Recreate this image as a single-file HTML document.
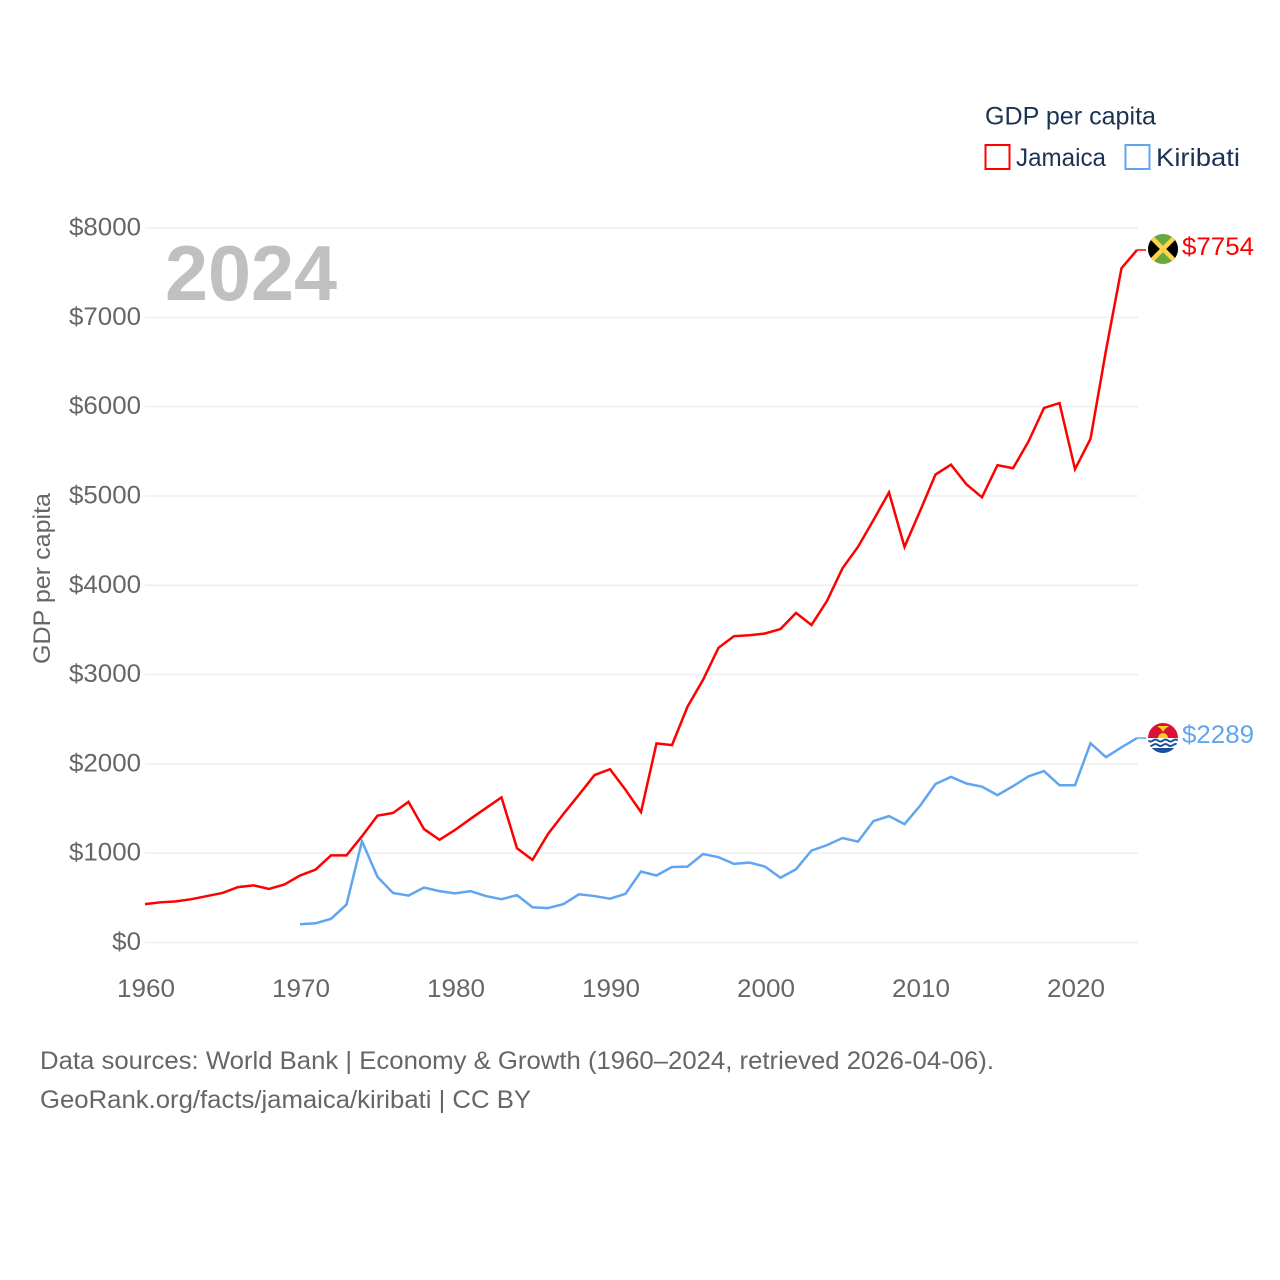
<!DOCTYPE html>
<html lang="en">
<head>
<meta charset="utf-8">
<title>GDP per capita: Jamaica and Kiribati</title>
<style>
html,body{margin:0;padding:0;background:#fff}
svg{display:block}
text{font-family:"Liberation Sans",sans-serif}
</style>
</head>
<body>
<svg id="chart" xmlns="http://www.w3.org/2000/svg" width="1280" height="1280" viewBox="0 0 1280 1280">
  <defs>
    <clipPath id="flag-clip-j"><circle cx="1163" cy="249" r="15"/></clipPath>
    <clipPath id="flag-clip-k"><circle cx="1163" cy="738" r="15"/></clipPath>
  </defs>
  <rect width="1280" height="1280" fill="#fff"/>
  <g id="grid"></g>
  <g id="yticks"></g>
  <g id="xticks"></g>
  <text x="165" y="300" font-size="78" font-weight="700" fill="#c0c0c0" textLength="172" lengthAdjust="spacingAndGlyphs">2024</text>
  <text transform="translate(50,664) rotate(-90)" font-size="24" fill="#666" textLength="171" lengthAdjust="spacingAndGlyphs">GDP per capita</text>
  <g id="series"></g>

  <g clip-path="url(#flag-clip-j)">
    <rect x="1148" y="234" width="30" height="30" fill="#6aa842"/>
    <polygon points="1148,234 1163,249 1148,264" fill="#000"/>
    <polygon points="1178,234 1163,249 1178,264" fill="#000"/>
    <path d="M1148 234L1178 264M1178 234L1148 264" stroke="#fed54a" stroke-width="4.5"/>
  </g>
  <g clip-path="url(#flag-clip-k)">
    <rect x="1148" y="723" width="30" height="16" fill="#dc0f37"/>
    <circle cx="1163" cy="738" r="5" fill="#fcd116"/>
    <polygon points="1157,726 1169,726 1165,729 1163,732 1161,729" fill="#fcd116"/>
    <rect x="1148" y="738" width="30" height="15" fill="#fff"/>
    <path d="M1148 740.5q2.5 2 5 0t5 0t5 0t5 0t5 0t5 0M1148 745q2.5 2 5 0t5 0t5 0t5 0t5 0t5 0" fill="none" stroke="#1a4fa0" stroke-width="2"/>
    <rect x="1148" y="748" width="30" height="5" fill="#1a4fa0"/>
  </g>

  <text id="label-j" x="1182" y="255" font-size="25" fill="#ff0000" textLength="72" lengthAdjust="spacingAndGlyphs"></text>
  <text id="label-k" x="1182" y="743" font-size="25" fill="#60a5f0" textLength="72" lengthAdjust="spacingAndGlyphs"></text>

  <g>
    <text x="985" y="124.5" font-size="25" fill="#1b3353" textLength="171" lengthAdjust="spacingAndGlyphs">GDP per capita</text>
    <g>
      <rect x="985.5" y="145" width="24" height="24" fill="none" stroke="#ff0000" stroke-width="2"/>
      <text x="1016" y="166" font-size="25" fill="#1b3353" textLength="90" lengthAdjust="spacingAndGlyphs">Jamaica</text>
    </g>
    <g>
      <rect x="1125.5" y="145" width="24" height="24" fill="none" stroke="#60a5f0" stroke-width="2"/>
      <text x="1156" y="166" font-size="25" fill="#1b3353" textLength="84" lengthAdjust="spacingAndGlyphs">Kiribati</text>
    </g>
  </g>

  <text x="40" y="1069" font-size="25" fill="#666" textLength="954" lengthAdjust="spacingAndGlyphs">Data sources: World Bank | Economy &amp; Growth (1960–2024, retrieved 2026-04-06).</text>
  <text x="40" y="1108" font-size="25" fill="#666" textLength="491" lengthAdjust="spacingAndGlyphs">GeoRank.org/facts/jamaica/kiribati | CC BY</text>
</svg>
<script>
const yTickValues = [0, 1000, 2000, 3000, 4000, 5000, 6000, 7000, 8000];
const xTickValues = [1960, 1970, 1980, 1990, 2000, 2010, 2020];
const jamaicaStartYear = 1960;
const jamaicaValues = [430, 450, 460, 485, 520, 555, 620, 640, 600, 650, 750, 815, 975, 975, 1190, 1420, 1450, 1575, 1270, 1150, 1260, 1385, 1505, 1625, 1055, 925, 1215, 1440, 1655, 1875, 1940, 1710, 1460, 2230, 2210, 2640, 2940, 3300, 3430, 3440, 3460, 3510, 3690, 3555, 3825, 4190, 4430, 4730, 5040, 4430, 4830, 5240, 5350, 5130, 4985, 5345, 5310, 5610, 5985, 6040, 5300, 5640, 6630, 7550, 7754];
const kiribatiStartYear = 1970;
const kiribatiValues = [205, 215, 265, 425, 1135, 735, 555, 525, 615, 575, 550, 575, 520, 485, 530, 395, 385, 430, 540, 520, 490, 545, 795, 750, 845, 850, 990, 955, 880, 895, 850, 725, 820, 1030, 1090, 1170, 1130, 1360, 1415, 1325, 1530, 1775, 1855, 1780, 1745, 1650, 1750, 1860, 1920, 1760, 1760, 2230, 2075, 2185, 2289];

const NS = 'http://www.w3.org/2000/svg';
function xScale(year) { return 145 + (year - 1960) * 15.5; }
function xLabelScale(year) { return 146 + (year - 1960) * 15.5; }
function yScale(value) { return 942.5 - value * 0.08931; }
function make(tag, attrs, parent) {
  const el = document.createElementNS(NS, tag);
  for (const k in attrs) el.setAttribute(k, attrs[k]);
  parent.appendChild(el);
  return el;
}

const grid = document.getElementById('grid');
const yticks = document.getElementById('yticks');
yTickValues.forEach(function (v) {
  const y = yScale(v);
  const line = make('line', { x1: 145, x2: 1138, y1: y, y2: y, stroke: '#eeeeee', 'stroke-width': 1.5 }, grid);
  
  
  const s = '$' + v;
  const t = make('text', { x: 141, y: y + 7.5, 'text-anchor': 'end', 'font-size': 25, fill: '#666', textLength: s.length * 14.4, lengthAdjust: 'spacingAndGlyphs' }, yticks);
  
  
  t.textContent = s;
});

const xticks = document.getElementById('xticks');
xTickValues.forEach(function (yr) {
  const s = String(yr);
  const t = make('text', { x: xLabelScale(yr), y: 997, 'text-anchor': 'middle', 'font-size': 25, fill: '#666', textLength: s.length * 14.5, lengthAdjust: 'spacingAndGlyphs' }, xticks);
  
  
  t.textContent = s;
});

function drawSeries(values, startYear, color, name) {
  const group = document.getElementById('series');
  const pts = values.map(function (v, i) { return xScale(startYear + i).toFixed(2) + ',' + yScale(v).toFixed(2); });
  const line = make('polyline', { points: pts.join(' '), fill: 'none', stroke: color, 'stroke-width': 2.5, 'stroke-linejoin': 'miter' }, group);
  
  
  const last = values[values.length - 1];
  const yEnd = yScale(last);
  const lead = make('line', { x1: xScale(startYear + values.length - 1), x2: 1146, y1: yEnd, y2: yEnd, stroke: color, 'stroke-width': 1.5 }, group);
  
  
}
drawSeries(jamaicaValues, jamaicaStartYear, '#ff0000', 'jamaica-line');
drawSeries(kiribatiValues, kiribatiStartYear, '#60a5f0', 'kiribati-line');

document.getElementById('label-j').textContent = '$' + jamaicaValues[jamaicaValues.length - 1];
document.getElementById('label-k').textContent = '$' + kiribatiValues[kiribatiValues.length - 1];
</script>
</body>
</html>
